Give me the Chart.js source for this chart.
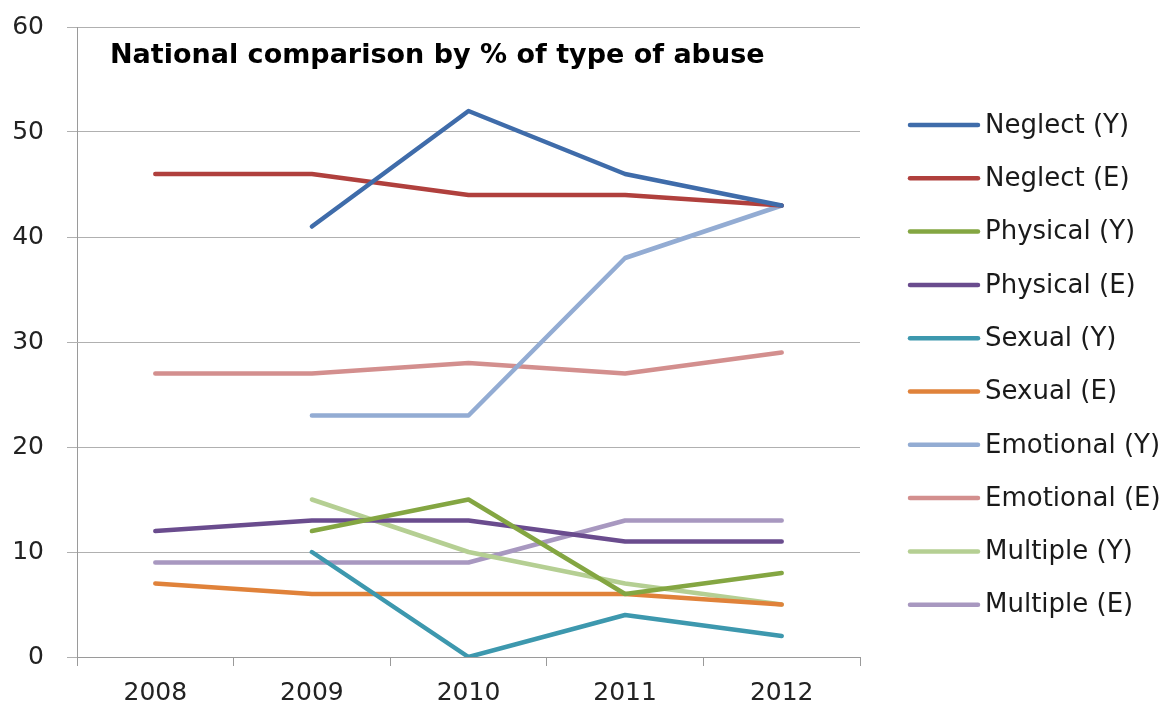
<!DOCTYPE html>
<html><head><meta charset="utf-8">
<script src="https://cdn.jsdelivr.net/npm/chart.js@4/dist/chart.umd.min.js"></script>
<style>html,body{margin:0;padding:0;background:#fff}#wrap{width:1167px;height:704px}</style>
</head><body><div id="wrap"><canvas id="c" width="1167" height="704"></canvas></div>
<script>
const categories = ['2008','2009','2010','2011','2012'];
const neglectY   = [null, 41, 52, 46, 43];
const neglectE   = [46, 46, 44, 44, 43];
const physicalY  = [null, 12, 15, 6, 8];
const physicalE  = [12, 13, 13, 11, 11];
const sexualY    = [null, 10, 0, 4, 2];
const sexualE    = [7, 6, 6, 6, 5];
const emotionalY = [null, 23, 23, 38, 43];
const emotionalE = [27, 27, 28, 27, 29];
const multipleY  = [null, 15, 10, 7, 5];
const multipleE  = [9, 9, 9, 13, 13];
const yTicks = [0, 10, 20, 30, 40, 50, 60];
const chartTitle = 'National comparison by % of type of abuse';
const seriesNames = ['Neglect (Y)','Neglect (E)','Physical (Y)','Physical (E)','Sexual (Y)','Sexual (E)','Emotional (Y)','Emotional (E)','Multiple (Y)','Multiple (E)'];
const seriesData = [neglectY, neglectE, physicalY, physicalE, sexualY, sexualE, emotionalY, emotionalE, multipleY, multipleE];
const colors = ['#3F6CAA','#B0403D','#84A642','#6A4C8E','#3D98AE','#E0823A','#93ACD3','#D38F8E','#B5CF93','#A898C0'];
const FONT = "'DejaVu Sans', Verdana, sans-serif";

const datasets = seriesNames.map((n,i)=>({
  label:n, data:seriesData[i], borderColor:colors[i], backgroundColor:colors[i],
  borderWidth:4.5, pointRadius:0, tension:0, fill:false, borderCapStyle:'round', borderJoinStyle:'round'
}));

const overlay = {
  id:'overlay',
  afterDraw(chart){
    const ctx = chart.ctx, a = chart.chartArea;
    ctx.save();
    ctx.fillStyle = '#000';
    ctx.font = "bold 27px " + FONT;
    ctx.textBaseline = 'middle';
    ctx.textAlign = 'left';
    ctx.fillText(chartTitle, a.left + 33, a.top + 29);
    // legend
    const x0 = 910, y0 = 125, step = 53.3;
    chart.data.datasets.forEach((d,i)=>{
      const y = y0 + i*step;
      ctx.strokeStyle = d.borderColor; ctx.lineWidth = 4.5; ctx.lineCap='round';
      ctx.beginPath(); ctx.moveTo(x0, y); ctx.lineTo(x0+68, y); ctx.stroke();
      ctx.fillStyle = '#1a1a1a';
      ctx.font = "26px " + FONT;
      ctx.fillText(d.label, x0 + 75, y + 1);
    });
    ctx.restore();
  }
};

new Chart(document.getElementById('c'), {
  type:'line',
  data:{labels:categories, datasets},
  options:{
    responsive:false, animation:false,
    layout:{padding:{top:27, right:307, bottom:0, left:0}},
    plugins:{legend:{display:false}, title:{display:false}, tooltip:{enabled:false}},
    scales:{
      x:{
        offset:true,
        afterFit(s){ s.height = 47; },
        grid:{offset:true, drawOnChartArea:false, drawTicks:true, tickLength:9, color:'#9a9a9a', lineWidth:1},
        border:{display:true, color:'#9a9a9a', width:1},
        ticks:{color:'#222', font:{size:25, family:FONT}, padding:12}
      },
      y:{
        min:0, max:60,
        afterFit(s){ s.width = 77; s.paddingTop = 0; s.paddingBottom = 0; },
        afterBuildTicks(s){ s.ticks = yTicks.map(v=>({value:v})); },
        ticks:{color:'#222', font:{size:25, family:FONT}, padding:23},
        grid:{color:'#b0b0b0', lineWidth:1, drawTicks:true, tickLength:10},
        border:{display:true, color:'#9a9a9a', width:1}
      }
    }
  },
  plugins:[overlay]
});
</script></body></html>
